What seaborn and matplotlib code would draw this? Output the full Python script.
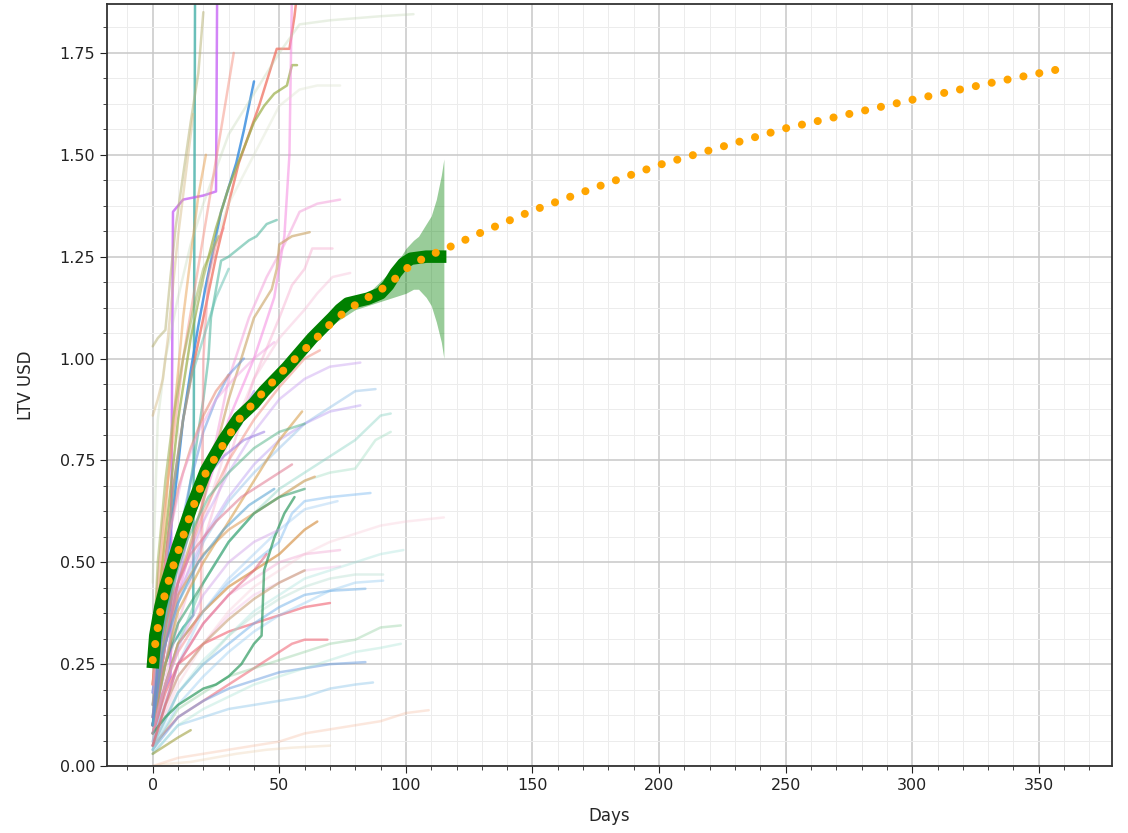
import matplotlib
matplotlib.use("Agg")
import matplotlib.pyplot as plt
from matplotlib.ticker import MultipleLocator
import seaborn as sns

sns.set_style("ticks")
plt.rcParams['font.family'] = ['DejaVu Sans']

# cohort curves (day breakpoints, LTV values)
cohort_days = [
    [0, 3, 8, 12, 16, 17],
    [0, 4, 7, 8, 12, 20, 25, 26],
    [0, 3, 6, 9, 12, 15, 18, 21, 24, 27, 30, 33, 36, 38, 40],
    [0, 4, 8, 12, 16, 20, 25, 30, 34, 38, 42, 45, 49, 54, 56, 58],
    [0, 3, 6, 10, 15, 20, 25, 30, 35, 40, 44, 48, 53, 55, 57],
    [0, 5, 10, 20, 30, 40, 48, 52, 54, 55, 56],
    [0, 2, 5, 10, 15, 20, 30, 40, 50, 58, 70, 90, 103],
    [0, 5, 10, 20, 30, 40, 50, 58, 65, 74],
    [0, 5, 10, 20, 25, 30, 38, 45, 52, 58, 65, 74],
    [0, 5, 10, 15, 20, 22, 23, 27, 30, 34, 38, 41, 45, 49],
    [0, 5, 10, 20, 25, 30, 35, 40, 44, 47, 49, 50, 55, 62],
    [0, 10, 20, 30, 40, 50, 55, 60, 63, 71],
    [0, 10, 20, 30, 40, 50, 60, 65, 71, 78],
    [0, 2, 5, 7, 9, 12, 15, 18, 20],
    [0, 2, 4, 6, 8, 10, 13, 16],
    [0, 4, 8, 12, 16, 20, 24, 28, 32],
    [0, 5, 10, 20, 30, 40, 50, 60, 70, 82],
    [0, 5, 10, 20, 30, 40, 50, 60, 70, 80, 88],
    [0, 5, 10, 20, 30, 40, 50, 60, 70, 82],
    [0, 5, 10, 20, 30, 40, 50, 60, 70, 80, 90, 94],
    [0, 10, 20, 30, 40, 50, 60, 70, 80, 88, 94],
    [0, 5, 10, 20, 30, 40, 50, 55, 60, 70, 86],
    [0, 5, 10, 20, 30, 40, 50, 60, 64],
    [0, 5, 10, 20, 30, 40, 50, 55, 60, 65],
    [0, 10, 20, 30, 40, 50, 60, 74],
    [0, 10, 20, 30, 40, 50, 60, 74],
    [0, 5, 10, 20, 30, 40, 50, 55, 60, 70],
    [0, 10, 20, 30, 35, 40, 45, 50, 55, 60, 69],
    [0, 10, 20, 30, 40, 50, 60, 70, 80, 87],
    [0, 10, 20, 30, 40, 50, 60, 70, 84],
    [0, 10, 20, 30, 40, 50, 60, 70, 80, 90, 98],
    [0, 10, 20, 30, 40, 50, 60, 70, 80, 90, 98],
    [0, 10, 20, 30, 40, 50, 60, 70, 80, 90, 100, 109],
    [0, 10, 20, 30, 40, 50, 60, 70, 80, 90, 100, 115],
    [0, 10, 20, 30, 40, 50, 60, 70, 80, 90, 99],
    [0, 10, 20, 30, 40, 50, 60, 70, 80, 91],
    [0, 10, 20, 30, 40, 50, 60, 70, 84],
    [0, 10, 20, 30, 40, 50, 60, 70, 80, 91],
    [0, 10, 20, 30, 40, 50, 60, 73],
    [0, 5, 10, 15],
    [0, 5, 15, 33, 45, 55, 70],
    [0, 5, 10, 15, 20, 25, 30, 35, 40, 43, 44, 48, 52, 56],
    [0, 5, 10, 20, 30, 40, 50, 60],
    [0, 5, 10, 20, 30, 40, 50, 59],
    [0, 5, 10, 15, 20, 25, 30, 35, 40],
    [0, 5, 10, 20, 30, 40, 50, 60, 66],
    [0, 5, 10, 15, 20, 25, 30, 36],
    [0, 5, 10, 15, 19, 20, 22, 25, 28],
    [0, 3, 6, 9, 12, 15, 18, 21],
    [0, 3, 6, 9, 12, 15, 20, 25, 30],
    [0, 4, 8, 12, 16, 20, 25, 30, 35, 40],
    [0, 3, 8, 15, 25, 35, 45, 55],
    [0, 4, 10, 18, 28, 38, 48],
    [0, 3, 8, 14, 22, 30, 40, 50, 60],
    [0, 5, 12, 20, 30, 40, 50],
    [0, 3, 6, 10, 15, 20, 25, 30],
    [0, 2, 5, 10, 15, 20, 25, 30, 35],
    [0, 5, 10, 20, 30, 40, 50, 60],
    [0, 4, 8, 14, 20, 28, 36, 44],
    [0, 5, 10, 15, 20, 30, 40, 45],
    [0, 2, 5, 8, 12, 16, 20, 26],
    [0, 3, 7, 12, 18, 25, 32, 40, 48],
]
cohort_ltv = [
    [0.10, 0.22, 0.30, 0.34, 0.37, 2.5],
    [0.12, 0.18, 0.22, 1.36, 1.39, 1.40, 1.41, 2.5],
    [0.18, 0.35, 0.52, 0.68, 0.85, 0.97, 1.08, 1.18, 1.27, 1.36, 1.42, 1.48, 1.56, 1.62, 1.68],
    [0.20, 0.45, 0.68, 0.85, 0.98, 1.10, 1.25, 1.38, 1.48, 1.55, 1.62, 1.68, 1.76, 1.76, 1.84, 1.95],
    [0.25, 0.45, 0.62, 0.85, 1.05, 1.20, 1.32, 1.42, 1.50, 1.58, 1.62, 1.65, 1.67, 1.72, 1.72],
    [0.10, 0.25, 0.42, 0.65, 0.85, 1.00, 1.15, 1.30, 1.50, 1.90, 2.5],
    [0.45, 0.85, 1.00, 1.15, 1.28, 1.38, 1.55, 1.65, 1.75, 1.82, 1.83, 1.84, 1.845],
    [0.30, 0.70, 0.95, 1.20, 1.38, 1.50, 1.62, 1.66, 1.67, 1.67],
    [0.12, 0.32, 0.48, 0.70, 0.80, 0.95, 1.10, 1.20, 1.28, 1.36, 1.38, 1.39],
    [0.15, 0.32, 0.50, 0.70, 0.90, 1.00, 1.10, 1.24, 1.25, 1.27, 1.29, 1.30, 1.33, 1.34],
    [0.10, 0.30, 0.45, 0.65, 0.78, 0.90, 1.00, 1.10, 1.14, 1.17, 1.22, 1.28, 1.30, 1.31],
    [0.08, 0.35, 0.55, 0.75, 0.95, 1.10, 1.18, 1.22, 1.27, 1.27],
    [0.10, 0.40, 0.60, 0.80, 0.95, 1.05, 1.12, 1.16, 1.20, 1.21],
    [1.03, 1.05, 1.07, 1.20, 1.32, 1.45, 1.58, 1.70, 1.85],
    [0.86, 0.90, 0.95, 1.05, 1.18, 1.30, 1.45, 1.60],
    [0.30, 0.60, 0.80, 1.00, 1.15, 1.30, 1.45, 1.60, 1.75],
    [0.10, 0.30, 0.45, 0.60, 0.72, 0.82, 0.90, 0.95, 0.98, 0.99],
    [0.08, 0.25, 0.40, 0.55, 0.65, 0.72, 0.78, 0.84, 0.88, 0.92, 0.925],
    [0.10, 0.30, 0.42, 0.56, 0.66, 0.74, 0.80, 0.84, 0.87, 0.885],
    [0.06, 0.20, 0.30, 0.45, 0.55, 0.62, 0.68, 0.72, 0.76, 0.80, 0.86, 0.865],
    [0.08, 0.30, 0.45, 0.55, 0.62, 0.66, 0.70, 0.72, 0.73, 0.80, 0.82],
    [0.05, 0.20, 0.30, 0.38, 0.45, 0.50, 0.55, 0.62, 0.65, 0.66, 0.67],
    [0.10, 0.30, 0.42, 0.52, 0.58, 0.62, 0.66, 0.70, 0.71],
    [0.08, 0.20, 0.30, 0.38, 0.44, 0.48, 0.52, 0.55, 0.58, 0.60],
    [0.06, 0.25, 0.35, 0.42, 0.46, 0.50, 0.52, 0.53],
    [0.05, 0.22, 0.30, 0.37, 0.42, 0.45, 0.48, 0.49],
    [0.08, 0.18, 0.25, 0.30, 0.33, 0.35, 0.37, 0.38, 0.39, 0.40],
    [0.05, 0.12, 0.16, 0.20, 0.22, 0.24, 0.26, 0.28, 0.30, 0.31, 0.31],
    [0.03, 0.10, 0.12, 0.14, 0.15, 0.16, 0.17, 0.19, 0.20, 0.205],
    [0.04, 0.12, 0.16, 0.19, 0.21, 0.23, 0.24, 0.25, 0.255],
    [0.04, 0.14, 0.18, 0.22, 0.24, 0.26, 0.28, 0.30, 0.31, 0.34, 0.345],
    [0.03, 0.10, 0.14, 0.17, 0.20, 0.22, 0.24, 0.26, 0.28, 0.29, 0.30],
    [0.00, 0.02, 0.03, 0.04, 0.05, 0.06, 0.08, 0.09, 0.10, 0.11, 0.13, 0.137],
    [0.05, 0.20, 0.30, 0.38, 0.44, 0.48, 0.52, 0.55, 0.57, 0.59, 0.60, 0.61],
    [0.04, 0.18, 0.26, 0.32, 0.38, 0.42, 0.46, 0.48, 0.50, 0.52, 0.53],
    [0.04, 0.15, 0.22, 0.28, 0.33, 0.37, 0.40, 0.43, 0.45, 0.455],
    [0.05, 0.18, 0.25, 0.30, 0.35, 0.39, 0.42, 0.43, 0.435],
    [0.05, 0.18, 0.25, 0.32, 0.37, 0.41, 0.44, 0.46, 0.47, 0.47],
    [0.06, 0.25, 0.38, 0.46, 0.52, 0.58, 0.63, 0.65],
    [0.03, 0.05, 0.07, 0.088],
    [0.00, 0.005, 0.01, 0.03, 0.04, 0.045, 0.05],
    [0.08, 0.12, 0.15, 0.17, 0.19, 0.20, 0.22, 0.25, 0.30, 0.32, 0.48, 0.56, 0.62, 0.66],
    [0.10, 0.25, 0.35, 0.45, 0.55, 0.62, 0.66, 0.68],
    [0.10, 0.25, 0.38, 0.50, 0.60, 0.70, 0.80, 0.87],
    [0.10, 0.30, 0.45, 0.60, 0.68, 0.75, 0.80, 0.86, 0.92],
    [0.10, 0.30, 0.45, 0.62, 0.75, 0.85, 0.93, 1.00, 1.02],
    [0.10, 0.35, 0.55, 0.70, 0.82, 0.90, 0.96, 1.00],
    [0.10, 0.20, 0.28, 0.33, 0.38, 1.00, 1.20, 1.28, 1.32],
    [0.20, 0.45, 0.70, 0.90, 1.10, 1.25, 1.40, 1.50],
    [0.15, 0.35, 0.55, 0.72, 0.85, 0.95, 1.05, 1.15, 1.22],
    [0.12, 0.30, 0.45, 0.58, 0.66, 0.72, 0.78, 0.83, 0.86, 0.88],
    [0.15, 0.30, 0.42, 0.52, 0.60, 0.66, 0.70, 0.74],
    [0.10, 0.28, 0.40, 0.50, 0.58, 0.64, 0.68],
    [0.12, 0.30, 0.45, 0.56, 0.66, 0.72, 0.78, 0.82, 0.84],
    [0.08, 0.20, 0.32, 0.42, 0.50, 0.55, 0.58],
    [0.20, 0.40, 0.55, 0.68, 0.78, 0.86, 0.92, 0.96],
    [0.10, 0.25, 0.38, 0.50, 0.60, 0.68, 0.75, 0.80, 0.84],
    [0.05, 0.15, 0.22, 0.30, 0.36, 0.41, 0.45, 0.48],
    [0.12, 0.35, 0.50, 0.62, 0.70, 0.76, 0.80, 0.82],
    [0.05, 0.15, 0.25, 0.30, 0.35, 0.42, 0.48, 0.52],
    [0.25, 0.50, 0.70, 0.85, 1.00, 1.12, 1.22, 1.30],
    [0.18, 0.40, 0.58, 0.72, 0.82, 0.90, 0.95, 1.00, 1.04],
]
cohort_colors = [
    "#45b0a8", "#c45cf5", "#3d8fe0", "#f07060", "#9aae48", "#f58ae0", "#b8d0a8",
    "#d8e0c8", "#f39bd8", "#55b8a0", "#c8a060", "#f5a0c8", "#f4b0d0", "#b5b070",
    "#d4b880", "#f59080", "#c8a0f0", "#90c0e8", "#b090f0", "#80d0c0", "#90d8b8",
    "#7ab8f0", "#e0a060", "#d89850", "#f0a0d0", "#f3b5e5", "#f06070", "#f06070",
    "#80c0e8", "#6a9ee0", "#80c890", "#a0e0d0", "#f5b090", "#f8c0d0", "#a0e0d8",
    "#90c8f0", "#70b0e8", "#a8d8c8", "#8ac0f0", "#a0a040", "#e8c8a0", "#2f9a60",
    "#3aa070", "#d8a050", "#a080f0", "#f08070", "#6090e0", "#f58a90", "#e8a050",
    "#60c0b0", "#c0a050", "#e07890", "#50a0d0", "#60b890", "#d0a0e8", "#e88870",
    "#40a8c8", "#c09060", "#9070e0", "#e06080", "#a0b050", "#f0a0e0",
]
cohort_alpha = [
    0.8, 0.75, 0.85, 0.75, 0.7, 0.55, 0.3, 0.35, 0.5, 0.6, 0.6, 0.4, 0.35, 0.5,
    0.45, 0.5, 0.45, 0.45, 0.4, 0.4, 0.35, 0.45, 0.6, 0.7, 0.4, 0.35, 0.6, 0.55,
    0.4, 0.5, 0.35, 0.35, 0.3, 0.3, 0.35, 0.4, 0.5, 0.35, 0.35, 0.6, 0.3, 0.7,
    0.6, 0.6, 0.5, 0.45, 0.5, 0.5, 0.5, 0.5, 0.55, 0.55, 0.55, 0.55, 0.45, 0.55,
    0.6, 0.5, 0.5, 0.55, 0.5, 0.45,
]

# average curve and its band
mean_days = [0, 1, 3, 5, 7, 10, 15, 21, 28, 34, 40, 44, 53, 63, 71, 74, 77, 85, 90,
             93, 96, 99, 102, 108, 116]
mean_ltv = [0.24, 0.32, 0.39, 0.44, 0.48, 0.54, 0.63, 0.725, 0.80, 0.855, 0.89, 0.92,
            0.978, 1.05, 1.10, 1.12, 1.135, 1.147, 1.16, 1.18, 1.21, 1.233, 1.245,
            1.25, 1.25]
band_days = [60, 70, 80, 85, 90, 95, 100, 103, 105, 108, 110, 112, 114, 115]
band_low = [1.03, 1.08, 1.12, 1.13, 1.14, 1.15, 1.16, 1.17, 1.17, 1.15, 1.13, 1.09, 1.04, 1.00]
band_high = [1.05, 1.10, 1.14, 1.16, 1.19, 1.22, 1.27, 1.29, 1.30, 1.33, 1.35, 1.39, 1.45, 1.49]

# fitted forecast curve
fit_days = [0, 3, 7, 15, 21, 28, 34, 44, 53, 63, 71, 77, 85, 93, 100, 108, 116, 130,
            150, 175, 200, 225, 250, 275, 300, 330, 358]
fit_ltv = [0.26, 0.38, 0.47, 0.62, 0.72, 0.79, 0.85, 0.92, 0.98, 1.04, 1.09, 1.12, 1.15,
           1.18, 1.22, 1.25, 1.27, 1.31, 1.363, 1.42, 1.475, 1.52, 1.565, 1.60, 1.635,
           1.675, 1.71]

fig = plt.figure(figsize=(11.28, 8.33), dpi=100)
ax = fig.add_axes([0.095, 0.0804, 0.891, 0.9148])

for d, v, c, a in zip(cohort_days, cohort_ltv, cohort_colors, cohort_alpha):
    sns.lineplot(x=d, y=v, ax=ax, color=c, alpha=a, lw=1.8, legend=False, zorder=2)

ax.fill_between(band_days, band_low, band_high, color='green', alpha=0.4, lw=0, zorder=3)
sns.lineplot(x=mean_days, y=mean_ltv, ax=ax, color='green', lw=9,
             solid_capstyle='butt', zorder=4)
sns.lineplot(x=fit_days, y=fit_ltv, ax=ax, color='orange', lw=5.8,
             linestyle=(0, (0.01, 2.0)), dash_capstyle='round', zorder=5)

ax.set_xlim(-18, 379)
ax.set_ylim(0, 1.87)
ax.xaxis.set_major_locator(MultipleLocator(50))
ax.xaxis.set_minor_locator(MultipleLocator(10))
ax.yaxis.set_major_locator(MultipleLocator(0.25))
ax.yaxis.set_minor_locator(MultipleLocator(0.0625))
ax.grid(which='major', color='#c8c8c8', lw=1.1, zorder=0)
ax.grid(which='minor', color='#ececec', lw=0.7, zorder=0)
ax.set_axisbelow(True)
ax.tick_params(which='major', length=5, labelsize=11.5, colors='#222222')
ax.tick_params(which='minor', length=3)
ax.yaxis.set_major_formatter(plt.FormatStrFormatter('%.2f'))
for s in ax.spines.values():
    s.set_color('#333333')
    s.set_linewidth(1.3)

ax.set_xlabel('Days', fontsize=12, labelpad=10)
ax.set_ylabel('LTV USD', fontsize=12, labelpad=18)

fig.savefig('out.png', dpi=100)
plt.close(fig)
